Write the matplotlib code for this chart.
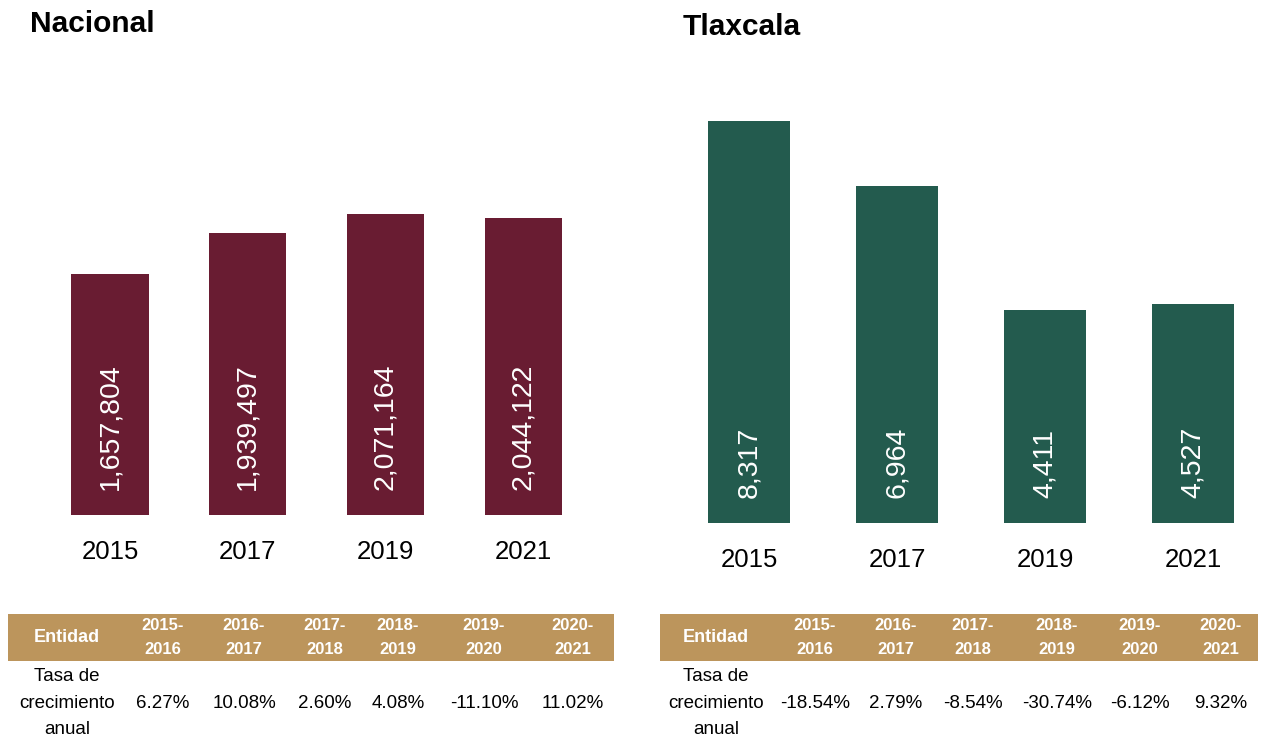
import matplotlib.pyplot as plt
from matplotlib.patches import Rectangle

years = ['2015', '2017', '2019', '2021']
nacional = [1657804, 1939497, 2071164, 2044122]
tlaxcala = [8317, 6964, 4411, 4527]
periodos = ['2015-\n2016', '2016-\n2017', '2017-\n2018', '2018-\n2019', '2019-\n2020', '2020-\n2021']
tasa_nacional = [6.27, 10.08, 2.60, 4.08, -11.10, 11.02]
tasa_tlaxcala = [-18.54, 2.79, -8.54, -30.74, -6.12, 9.32]

plt.rcParams['font.family'] = ['Liberation Sans Narrow', 'Liberation Sans', 'DejaVu Sans']

W, H = 1262, 740
fig = plt.figure(figsize=(W / 100, H / 100), dpi=100)

# overlay in pixel units for titles and tables
ov = fig.add_axes([0, 0, 1, 1])
ov.set_xlim(0, W)
ov.set_ylim(H, 0)
ov.axis('off')


def bar_panel(first, step, base, width, vals, color, px_per_unit):
    x0 = first - step / 2
    x1 = first + 3.5 * step
    top = 60
    ax = fig.add_axes([x0 / W, 1 - base / H, (x1 - x0) / W, (base - top) / H])
    ax.bar(range(len(vals)), vals, width=width, color=color)
    ax.set_xlim(-0.5, 3.5)
    ax.set_ylim(0, (base - top) / px_per_unit)
    ax.set_xticks(range(len(years)))
    ax.set_xticklabels(years, fontsize=18.5)
    ax.tick_params(length=0, pad=18)
    ax.set_yticks([])
    for s in ax.spines.values():
        s.set_visible(False)
    for i, v in enumerate(vals):
        ax.annotate(f'{v:,}', xy=(i, 0), xytext=(0, 18), textcoords='offset points',
                    rotation=90, ha='center', va='bottom', color='white', fontsize=20.5)
    return ax


bar_panel(110, 137.8, 515, 0.56, nacional, '#691C32', 241 / 1657804)
bar_panel(749, 148, 523, 0.555, tlaxcala, '#235B4E', 402 / 8317)

ov.text(30, 24, 'Nacional', fontsize=21.5, fontweight='bold', va='center', ha='left')
ov.text(683, 27, 'Tlaxcala', fontsize=21.5, fontweight='bold', va='center', ha='left')


def table(x0, x1, centers, tasas):
    ov.add_patch(Rectangle((x0, 614), x1 - x0, 47, color='#BC955C', lw=0))
    ov.text(centers[0], 638, 'Entidad', color='white', fontsize=13, fontweight='bold',
            ha='center', va='center')
    for c, p in zip(centers[1:], periodos):
        ov.text(c, 638, p, color='white', fontsize=12, fontweight='bold',
                ha='center', va='center', linespacing=1.75)
    ov.text(centers[0], 703, 'Tasa de\ncrecimiento\nanual', fontsize=13.5,
            ha='center', va='center', linespacing=1.75)
    for c, t in zip(centers[1:], tasas):
        ov.text(c, 703, f'{t:.2f}%', fontsize=13.5, ha='center', va='center')


table(8, 614, [67, 163, 244, 325, 398, 484, 573], tasa_nacional)
table(660, 1258, [716, 815, 896, 973, 1057, 1140, 1221], tasa_tlaxcala)

fig.savefig('out.png', dpi=100)
